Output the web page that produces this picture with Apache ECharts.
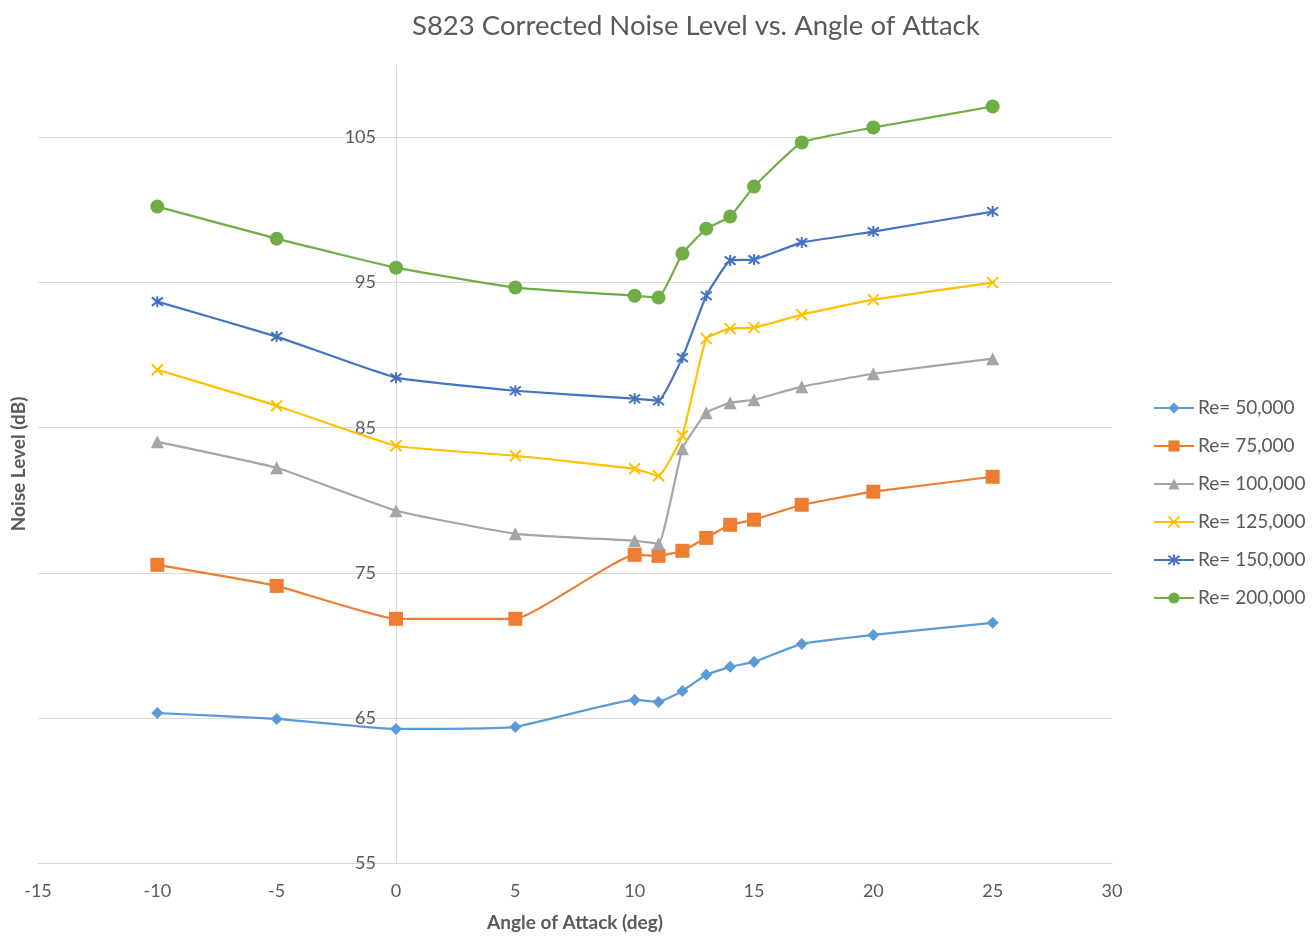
<!DOCTYPE html>
<html>
<head>
<meta charset="utf-8">
<script src="https://cdn.jsdelivr.net/npm/echarts@6/dist/echarts.min.js"></script>
<style>html,body{margin:0;padding:0;background:#fff}#c{width:1315px;height:939px}</style>
</head>
<body>
<div id="c"></div>
<script>
const angles = [-10, -5, 0, 5, 10, 11, 12, 13, 14, 15, 17, 20, 25];
const seriesNames = ['Re= 50,000', 'Re= 75,000', 'Re= 100,000', 'Re= 125,000', 'Re= 150,000', 'Re= 200,000'];
const re50k  = [65.34, 64.93, 64.24, 64.38, 66.24, 66.10, 66.86, 67.97, 68.52, 68.86, 70.10, 70.72, 71.55];
const re75k  = [75.55, 74.10, 71.83, 71.83, 76.24, 76.17, 76.52, 77.41, 78.31, 78.66, 79.69, 80.59, 81.62];
const re100k = [84.03, 82.24, 79.28, 77.69, 77.21, 77.00, 83.55, 86.03, 86.72, 86.93, 87.83, 88.72, 89.76];
const re125k = [89.00, 86.52, 83.76, 83.07, 82.17, 81.69, 84.45, 91.14, 91.83, 91.90, 92.79, 93.83, 95.00];
const re150k = [93.69, 91.28, 88.45, 87.55, 87.00, 86.86, 89.83, 94.10, 96.52, 96.59, 97.76, 98.52, 99.90];
const re200k = [100.24, 98.03, 96.03, 94.66, 94.10, 93.97, 97.00, 98.72, 99.55, 101.62, 104.66, 105.69, 107.14];
const allValues = [re50k, re75k, re100k, re125k, re150k, re200k];

const colors = ['#5B9BD5', '#ED7D31', '#A5A5A5', '#FFC000', '#4472C4', '#70AD47'];
const symbols = ['diamond', 'rect', 'triangle', 'path://M0,0L10,10M10,0L0,10', 'path://M0,0L10,10M10,0L0,10M5,-1.5L5,11.5', 'circle'];
const sizes = [12, 14, 13, 11, 11, 14];
const strokeSym = [false, false, false, true, true, false];

const font = 'Lato, "Open Sans", sans-serif';
const series = seriesNames.map((n, i) => ({
  name: n,
  type: 'line',
  data: angles.map((a, j) => [a, allValues[i][j]]),
  symbol: symbols[i],
  symbolSize: sizes[i],
  smooth: 0.12,
  clip: false,
  lineStyle: {color: colors[i], width: 2.2},
  itemStyle: strokeSym[i]
    ? {color: 'rgba(0,0,0,0)', borderColor: colors[i], borderWidth: 2}
    : {color: colors[i], borderColor: colors[i], borderWidth: 0},
  emphasis: {disabled: true},
  animation: false
}));

const chart = echarts.init(document.getElementById('c'));
chart.setOption({
  backgroundColor: '#fff',
  animation: false,
  title: {
    text: 'S823 Corrected Noise Level vs. Angle of Attack',
    left: 407, top: 7,
    textStyle: {fontFamily: font, fontSize: 27.5, fontWeight: 'normal', color: '#595959'}
  },
  grid: {left: 38, right: 203, top: 65, bottom: 76, containLabel: false, outerBoundsMode: 'none'},
  xAxis: {
    type: 'value', min: -15, max: 30, interval: 5,
    name: 'Angle of Attack (deg)', nameLocation: 'middle', nameGap: 50,
    nameTextStyle: {fontFamily: font, fontSize: 19, fontWeight: 'bold', color: '#595959'},
    axisLine: {onZero: false, lineStyle: {color: '#d9d9d9', width: 1}},
    axisTick: {show: false},
    axisLabel: {fontFamily: font, fontSize: 18, color: '#595959', margin: 19},
    splitLine: {show: false}
  },
  yAxis: {
    type: 'value', min: 55, max: 110, interval: 10,
    position: 'left', offset: -358,
    name: 'Noise Level (dB)', nameLocation: 'middle', nameGap: 368, nameRotate: 90,
    nameTextStyle: {fontFamily: font, fontSize: 19, fontWeight: 'bold', color: '#595959'},
    axisLine: {show: true, onZero: false, lineStyle: {color: '#d9d9d9', width: 1}},
    axisTick: {show: false},
    axisLabel: {fontFamily: font, fontSize: 18, color: '#595959', margin: 20,
      formatter: v => (v > 105 ? '' : String(v))},
    splitLine: {show: true, lineStyle: {color: ['#d9d9d9', '#d9d9d9', '#d9d9d9', '#d9d9d9', '#d9d9d9', '#d9d9d9', 'rgba(0,0,0,0)'], width: 1}}
  },
  legend: {
    orient: 'vertical', left: 1148, top: 393,
    itemWidth: 40, itemHeight: 14, itemGap: 18,
    data: seriesNames,
    textStyle: {fontFamily: font, fontSize: 19, color: '#595959', lineHeight: 20, padding: [0, 0, 0, -1]}
  },
  series: series
});
</script>
</body>
</html>
